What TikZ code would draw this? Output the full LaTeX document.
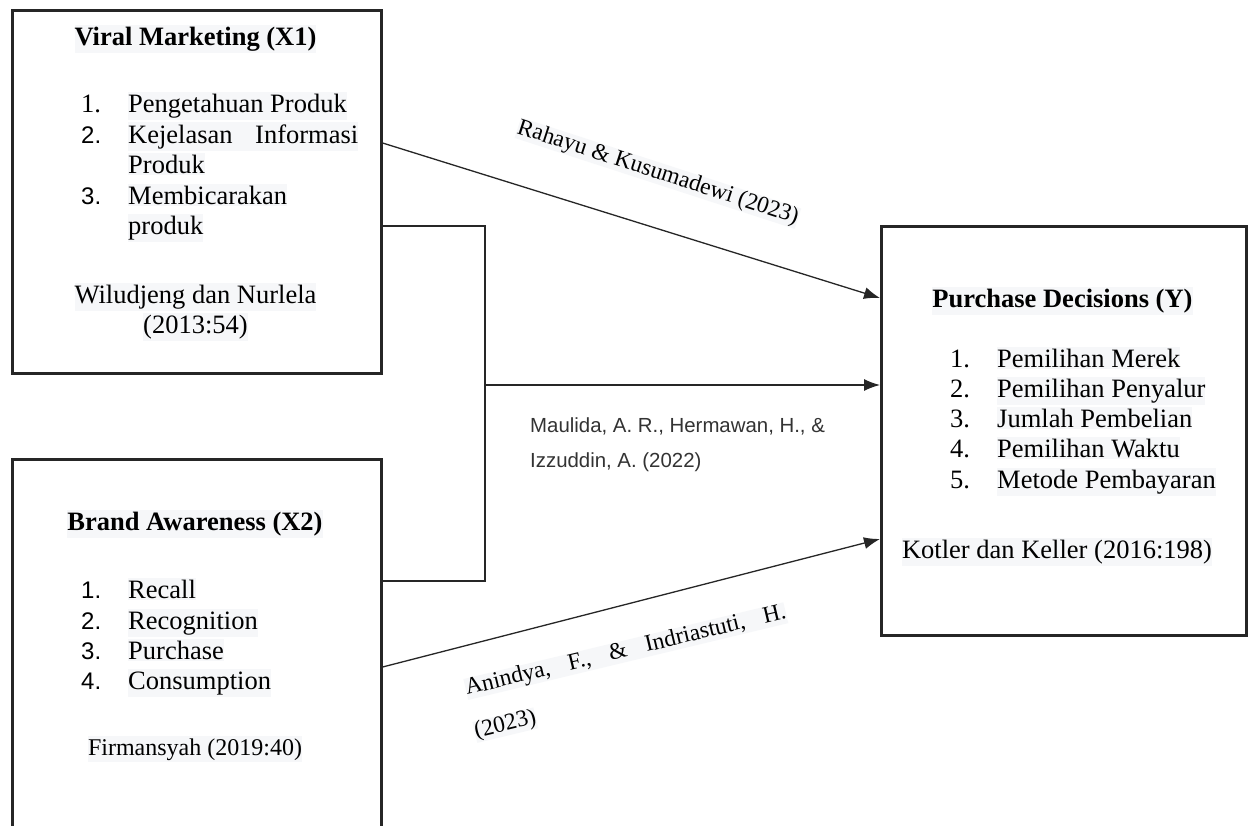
\documentclass[tikz,border=0pt]{standalone}
\usepackage{fontspec}
\setmainfont{Liberation Serif}
\setsansfont{Liberation Sans}
\usepackage{tikz}
\usetikzlibrary{positioning,arrows.meta}
\definecolor{shadegray}{RGB}{246,247,249}

\begin{document}
\begin{tikzpicture}[x=1pt,y=-1pt,
  box/.style={draw=black!85, line width=2.6pt, anchor=north west, inner sep=0pt},
  txt/.style={anchor=base west, inner xsep=0pt, inner ysep=2pt, fill=shadegray, font=\fontsize{26.5}{30}\selectfont},
  ttl/.style={txt, anchor=base, font=\bfseries\fontsize{26.5}{30}\selectfont},
  num/.style={txt, fill=none},
  snum/.style={num, font=\sffamily\fontsize{24}{30}\selectfont},
  cite/.style={anchor=base west, inner sep=0pt, fill=shadegray, font=\fontsize{23.5}{28}\selectfont},
  note/.style={anchor=base west, inner sep=0pt, text=black!80, font=\sffamily\fontsize{20.4}{35}\selectfont},
  link/.style={black!85, line width=1.3pt},
  arr/.style={link, -{Latex[length=16pt,width=12pt]}}]
\clip (0,0) rectangle (1248,825);
\fill[white] (0,0) rectangle (1248,825);

\node[box, minimum width=369pt, minimum height=363pt] (vm) at (11,9) {};
\node[box, minimum width=369pt, minimum height=450pt] (ba) at (11,458) {};
\node[box, minimum width=365pt, minimum height=409pt] (pd) at (880,225) {};

\node[ttl] (vmtitle) at (195.5,45) {Viral Marketing (X1)};
\node[num] (vm1n) at (81,112) {1.};
\node[txt] (vm1) at (128,112) {Pengetahuan Produk};
\node[snum] (vm2n) at (81,143) {2.};
\node[txt, text width=230pt] (vm2) at (128,143) {Kejelasan\hfill Informasi};
\node[txt] (vm2b) at (128,173) {Produk};
\node[snum] (vm3n) at (81,204) {3.};
\node[txt] (vm3) at (128,204) {Membicarakan};
\node[txt] (vm3b) at (128,234) {produk};
\node[txt, anchor=base] (vmref) at (195.5,303) {Wiludjeng dan Nurlela};
\node[txt, anchor=base] (vmyear) at (195.5,333) {(2013:54)};

\node[ttl] (batitle) at (195,530) {Brand Awareness (X2)};
\foreach \y/\n/\t in {598/1/Recall,629/2/Recognition,659/3/Purchase,689/4/Consumption}{
  \node[snum] (ba\n n) at (81,\y) {\n.};
  \node[txt] (ba\n) at (128,\y) {\t};
}
\node[txt, anchor=base, font=\fontsize{24}{28}\selectfont] (baref) at (195,755) {Firmansyah (2019:40)};

\node[ttl] (pdtitle) at (1062.5,307) {Purchase Decisions (Y)};
\foreach \y/\n/\t in {367/1/Pemilihan Merek,397/2/Pemilihan Penyalur,427/3/Jumlah Pembelian,457/4/Pemilihan Waktu,488/5/Metode Pembayaran}{
  \node[num] (pd\n n) at (950,\y) {\n.};
  \node[txt] (pd\n) at (997,\y) {\t};
}
\node[txt, anchor=base] (pdref) at (1057,558) {Kotler dan Keller (2016:198)};

\coordinate (jn) at (485,385);
\draw[arr] (vm.east |- 0,143) -- (pd.west |- 0,298);
\draw[link] (vm.east |- 0,226) -| (jn) |- (ba.east |- 0,581);
\draw[arr] (jn) -- (pd.west |- jn);
\draw[arr] (ba.east |- 0,667) -- (pd.west |- 0,539);

\node[cite, rotate=-18] (rk) at (516,133) {Rahayu \& Kusumadewi (2023)};
\node[note] (mh1) at (530,432) {Maulida, A. R., Hermawan, H., \&};
\node[note] (mh2) at (530,467) {Izzuddin, A. (2022)};
\node[cite, rotate=13.5, text width=329pt] (ai1) at (467,695) {Anindya,\hfill F.,\hfill \&\hfill Indriastuti,\hfill H.};
\node[cite, rotate=13.5] (ai2) at (476,738) {(2023)};
\end{tikzpicture}
\end{document}
